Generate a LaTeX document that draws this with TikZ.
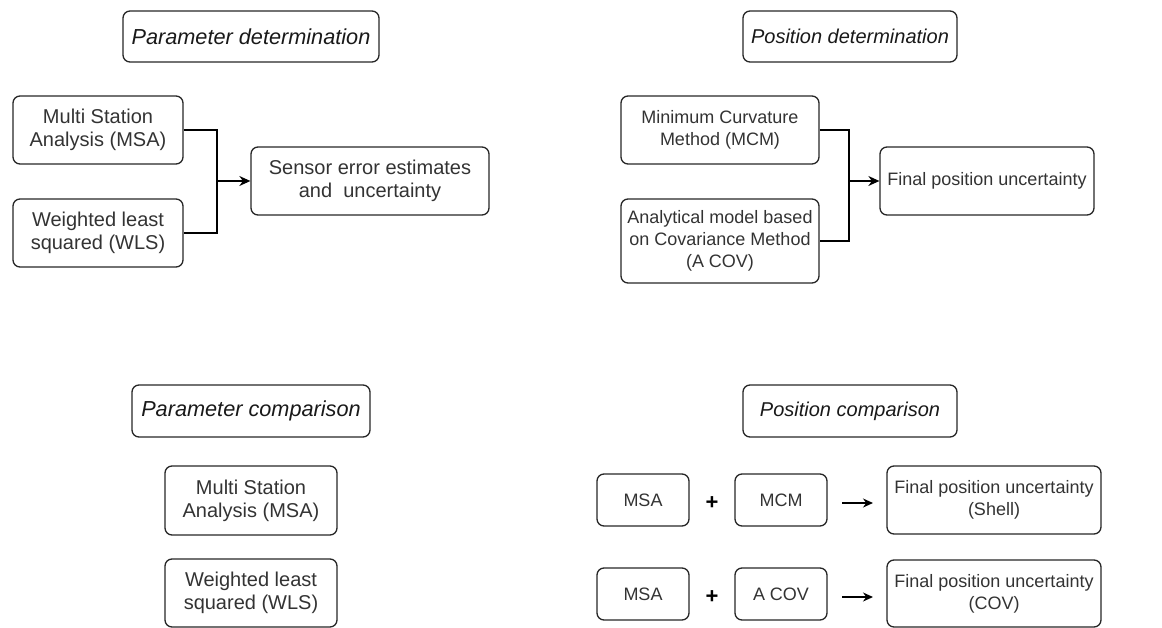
\documentclass[tikz,border=0pt]{standalone}
\usepackage{fontspec}
\setmainfont{Liberation Sans}
\usepackage{tikz}
\usetikzlibrary{arrows.meta}

\begin{document}
\begin{tikzpicture}[x=1pt,y=-1pt,
  box/.style={draw=black!85, line width=1.3pt, rounded corners=7pt, align=center, text=black!80, font=\fontsize{18}{22}\selectfont, inner sep=0pt},
  bigbox/.style={box, font=\fontsize{20}{23}\selectfont},
  titlebox/.style={box, text=black!90, font=\fontsize{20}{22}\selectfont\itshape},
  bigtitlebox/.style={titlebox, font=\fontsize{21.7}{22}\selectfont\itshape},
  link/.style={draw=black, line width=1.3pt},
  tip/.style={-{Stealth[length=11pt,width=10pt]}}]
\useasboundingbox (0,0) rectangle (1162,628);
\node[bigtitlebox, anchor=center, minimum width=256pt, minimum height=51pt] (pardet) at (251,36.5) {Parameter determination};
\node[bigbox, anchor=center, minimum width=170pt, minimum height=68pt] (msa) at (98,130) {Multi Station\\Analysis (MSA)};
\node[bigbox, anchor=center, minimum width=170pt, minimum height=68pt] (wls) at (98,233) {Weighted least\\squared (WLS)};
\node[bigbox, anchor=center, minimum width=238pt, minimum height=68pt] (sensor) at (370,181) {Sensor error estimates\\and\ \ uncertainty};
\node[titlebox, anchor=center, minimum width=214pt, minimum height=51pt] (posdet) at (850,36.5) {Position determination};
\node[box, anchor=center, minimum width=198pt, minimum height=68pt] (mcm) at (720,130) {Minimum Curvature\\Method (MCM)};
\node[box, anchor=center, minimum width=198pt, minimum height=84pt] (acov) at (720,241) {Analytical model based\\on Covariance Method\\(A COV)};
\node[box, anchor=center, minimum width=214pt, minimum height=68pt] (final) at (987,181) {Final position uncertainty};
\node[bigtitlebox, anchor=center, minimum width=238pt, minimum height=52pt] (parcomp) at (251,411) {Parameter comparison};
\node[bigbox, anchor=center, minimum width=172pt, minimum height=69pt] (msatwo) at (251,500.5) {Multi Station\\Analysis (MSA)};
\node[bigbox, anchor=center, minimum width=172pt, minimum height=68pt] (wlstwo) at (251,593) {Weighted least\\squared (WLS)};
\node[titlebox, anchor=center, minimum width=214pt, minimum height=52pt] (poscomp) at (850,411) {Position comparison};
\node[box, anchor=center, minimum width=92pt, minimum height=52pt] (msaa) at (643,500) {MSA};
\node[box, anchor=center, minimum width=92pt, minimum height=52pt] (mcma) at (781,500) {MCM};
\node[box, anchor=center, minimum width=214pt, minimum height=68pt] (finala) at (994,500) {Final position uncertainty\\(Shell)};
\node[box, anchor=center, minimum width=92pt, minimum height=52pt] (msab) at (643,594) {MSA};
\node[box, anchor=center, minimum width=92pt, minimum height=52pt] (acovb) at (781,594) {A COV};
\node[box, anchor=center, minimum width=214pt, minimum height=67pt] (finalb) at (994,593.5) {Final position uncertainty\\(COV)};
\node[anchor=center, font=\fontsize{22}{22}\selectfont\bfseries] (plusa) at (712,503) {+};
\node[anchor=center, font=\fontsize{22}{22}\selectfont\bfseries] (plusb) at (712,597) {+};

\coordinate (jleft) at (217,181);
\coordinate (jright) at (849,181);
\coordinate (arrowas) at (842,503);
\coordinate (arrowae) at (873,503);
\coordinate (arrowbs) at (842,597);
\coordinate (arrowbe) at (873,597);

\draw[link] (msa.east) -| (jleft) |- (wls.east);
\draw[link, tip] (jleft) -- (sensor.west);
\draw[link] (mcm.east) -| (jright) |- (acov.east);
\draw[link, tip] (jright) -- (final.west);
\draw[link, line width=1.5pt, -{Stealth[length=10pt,width=9pt]}] (arrowas) -- (arrowae);
\draw[link, line width=1.5pt, -{Stealth[length=10pt,width=9pt]}] (arrowbs) -- (arrowbe);
\end{tikzpicture}
\end{document}
